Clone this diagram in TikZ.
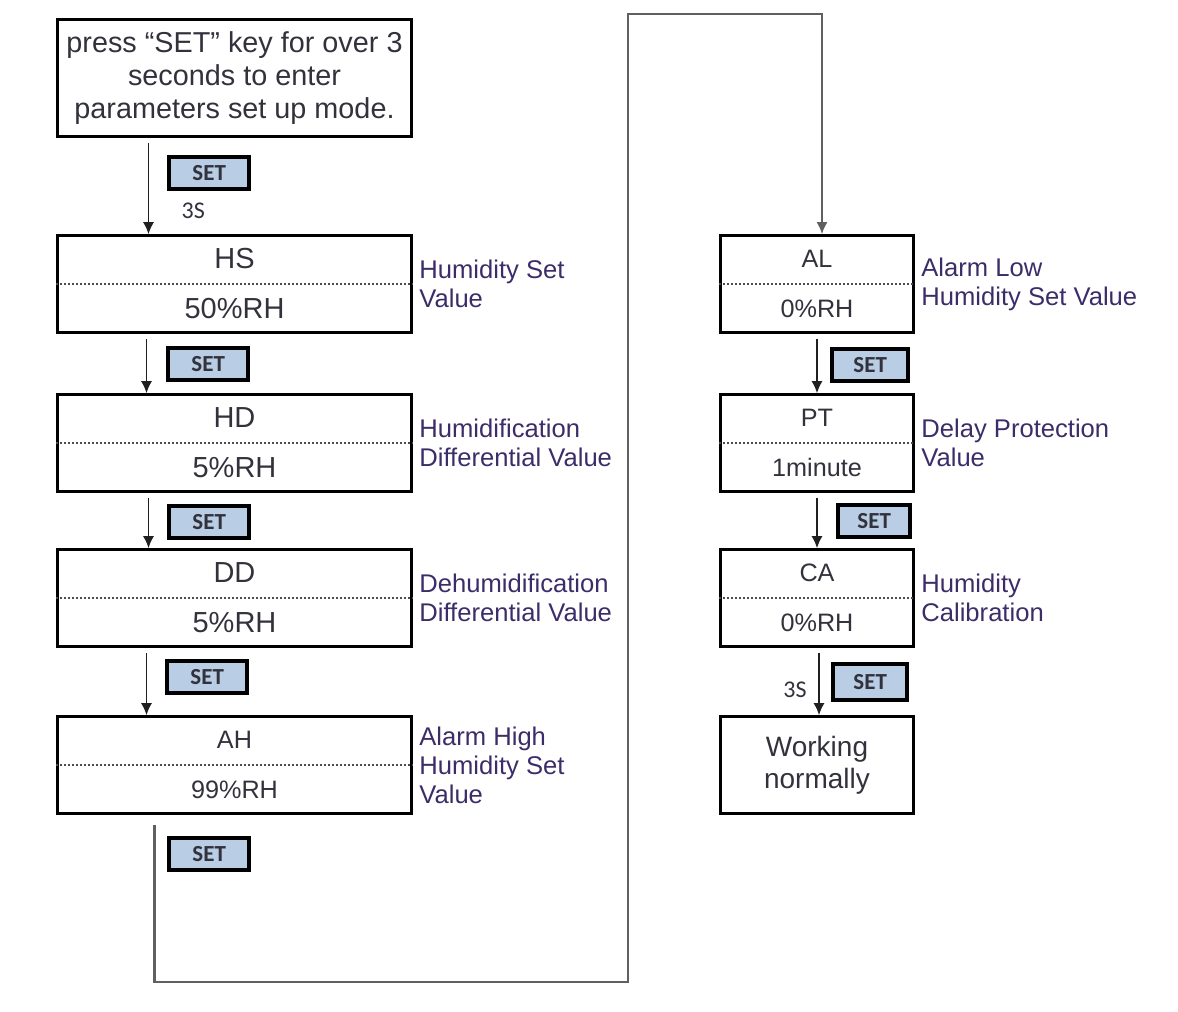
\documentclass[tikz,border=0pt]{standalone}
\usepackage{fontspec}
\setmainfont{Liberation Sans}
\newfontfamily\keyfont{Carlito}
\usepackage{tikz}
\usetikzlibrary{positioning}
\usetikzlibrary{arrows.meta}

\definecolor{keyblue}{RGB}{185,205,229}
\definecolor{notecolor}{RGB}{60,45,105}
\definecolor{boxtext}{RGB}{50,50,60}

\begin{document}
\begin{tikzpicture}[
            x = 0.5pt, y = -0.5pt, % pixel grid of the page
            > = {Latex[length=6pt, width=5.5pt]}, % arrow head style
            node distance = 80pt, % distance between boxes
            semithick % line style
        ]

        \tikzstyle{param}=[
            draw, line width = 1.3pt,
            minimum width = 177pt, minimum height = 48.5pt,
            align = center, text = boxtext,
            font = \fontsize{14.5}{25}\selectfont
        ]
        \tikzstyle{paramr}=[param, minimum width = 96.5pt,
            font = \fontsize{12.6}{25}\selectfont]
        \tikzstyle{note}=[inner sep = 0pt, align = left, text = notecolor,
            font = \fontsize{12.8}{14.5}\selectfont]
        \tikzstyle{setkey}=[
            draw, line width = 2pt, fill = keyblue,
            minimum width = 40pt, minimum height = 16pt, inner sep = 0pt,
            text = boxtext, font = \keyfont\bfseries\fontsize{11.5}{12}\selectfont
        ]
        \tikzstyle{timing}=[inner sep = 1pt, text = boxtext,
            font = \keyfont\fontsize{12}{12}\selectfont]
        \tikzstyle{divider}=[draw = gray!60!black, line width = 0.8pt,
            dash pattern = on 1pt off 1pt]
        \tikzstyle{flow}=[->, shorten < = 2.5pt, line width = 0.8pt,
            draw = gray!25!black]
        \tikzstyle{backline}=[->, shorten < = 5pt, line width = 1.1pt,
            draw = gray!75!black]

        \useasboundingbox (0,0) rectangle (1178,1012);

	% left column
        \node[param] (HS) at (234.5,284) {HS\\50\%RH};
        \node[param, minimum height = 58.5pt,
            font = \fontsize{14.4}{16.3}\selectfont] (start) [above of = HS, node distance = 103pt]
            {press ``SET'' key for over 3\\seconds to enter\\parameters set up mode.};
        \node[param] (HD) [below of = HS, node distance = 79.5pt] {HD\\5\%RH};
        \node[param] (DD) [below of = HD, node distance = 77.5pt] {DD\\5\%RH};
        \node[param, font = \fontsize{12.6}{25}\selectfont] (AH) [below of = DD, node distance = 83.5pt] {AH\\99\%RH};

        \draw[divider] (HS.west) -- (HS.east);
        \draw[divider] (HD.west) -- (HD.east);
        \draw[divider] (DD.west) -- (DD.east);
        \draw[divider] (AH.west) -- (AH.east);

	% right column
        \node[paramr] (AL) [right of = HS, node distance = 291.25pt] {AL\\0\%RH};
        \node[paramr] (PT) [right of = HD, node distance = 291.25pt] {PT\\1minute};
        \node[paramr] (CA) [right of = DD, node distance = 291.25pt] {CA\\0\%RH};
        \node[paramr, font = \fontsize{14}{16}\selectfont] (work) [right of = AH, node distance = 291.25pt] {Working\\normally};

        \draw[divider] (AL.west) -- (AL.east);
        \draw[divider] (PT.west) -- (PT.east);
        \draw[divider] (CA.west) -- (CA.east);

	% notes
        \node[note] (HSnote) [right = 3pt of HS] {Humidity Set\\Value};
        \node[note] (HDnote) [right = 3pt of HD] {Humidification\\Differential Value};
        \node[note] (DDnote) [right = 3pt of DD] {Dehumidification\\Differential Value};
        \node[note] (AHnote) [right = 3pt of AH] {Alarm High\\Humidity Set\\Value};
        \node[note] (ALnote) [right = 3pt of AL] {Alarm Low\\Humidity Set Value};
        \node[note] (PTnote) [right = 3pt of PT] {Delay Protection\\Value};
        \node[note] (CAnote) [right = 3pt of CA] {Humidity\\Calibration};

	% keys
        \node[setkey] (k1) [below right = 8.5pt and 55.5pt of start.south west] {SET};
        \node[setkey] (k2) [below right = 6pt and 55pt of HS.south west] {SET};
        \node[setkey] (k3) [below right = 5.5pt and 55.5pt of HD.south west] {SET};
        \node[setkey] (k4) [below right = 5.5pt and 54.5pt of DD.south west] {SET};
        \node[setkey] (k5) [below right = 10.5pt and 55.5pt of AH.south west] {SET};
        \node[setkey, minimum width = 38pt] (k6) [below right = 6.5pt and 55.5pt of AL.south west] {SET};
        \node[setkey, minimum width = 36pt] (k7) [below right = 5pt and 58.5pt of PT.south west] {SET};
        \node[setkey, minimum width = 37pt, minimum height = 18pt] (k8) [below right = 7pt and 56pt of CA.south west] {SET};

        \node[timing] (t1) [below = 5pt of k1, xshift = -8pt] {3S};
        \node[timing] (t2) [left = 11pt of k8, yshift = -4pt] {3S};

	% steps
        \draw[flow] ([xshift = -43pt]start.south) -- ([xshift = -43pt]HS.north);
        \draw[flow] ([xshift = -44pt]HS.south) -- ([xshift = -44pt]HD.north);
        \draw[flow] ([xshift = -43pt]HD.south) -- ([xshift = -43pt]DD.north);
        \draw[flow] ([xshift = -44pt]DD.south) -- ([xshift = -44pt]AH.north);

        \draw[flow] (AL.south) -- (PT.north);
        \draw[flow] (PT.south) -- (CA.north);
        \draw[flow] ([xshift = 1pt]CA.south) -- ([xshift = 1pt]work.north);

	% back to the top
        \coordinate (turnL) at (628,982);
        \coordinate (turnR) at (628,14);
        \draw[backline] ([xshift = -40pt]AH.south) |- (turnL) -- (turnR) -| ([xshift = 2.5pt]AL.north);

\end{tikzpicture}
\end{document}
